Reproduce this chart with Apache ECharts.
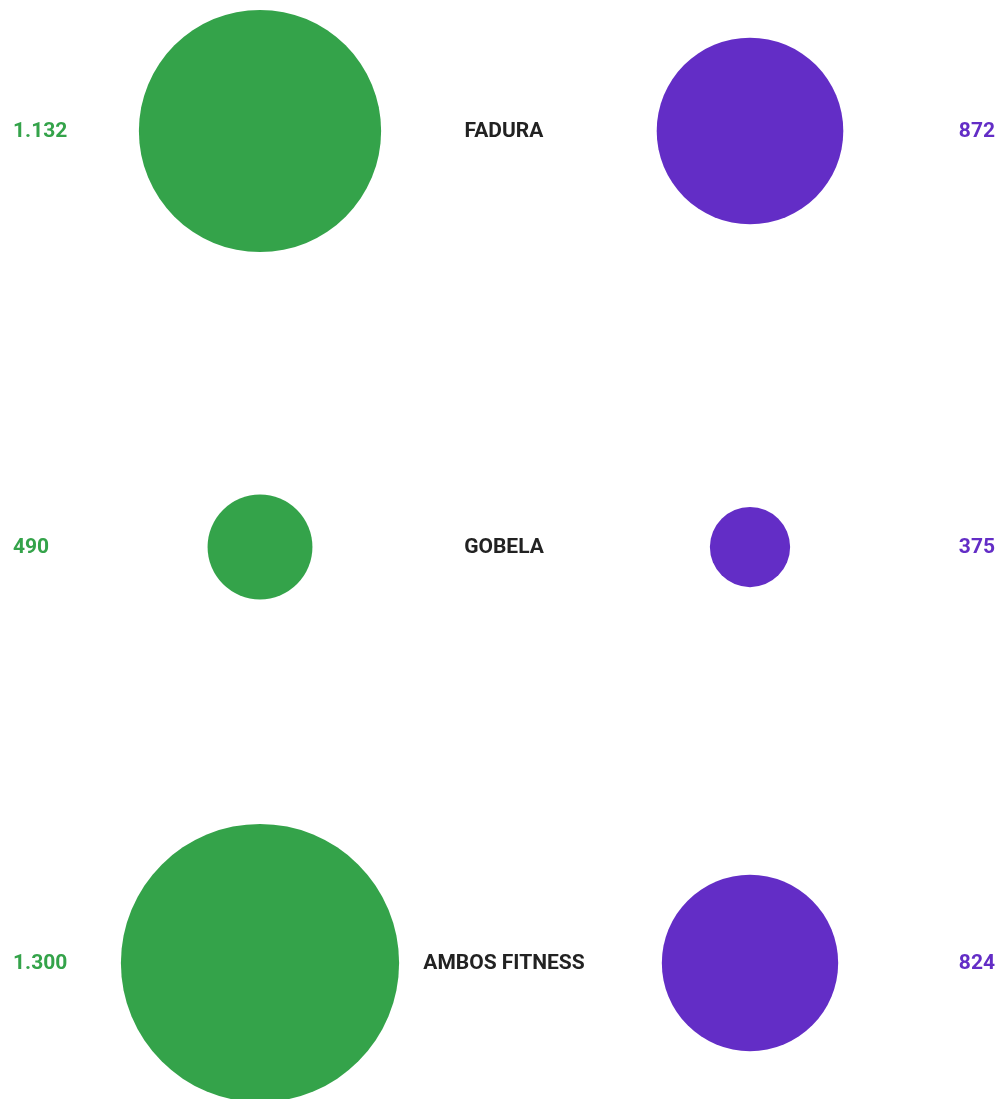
<!DOCTYPE html>
<html><head><meta charset="utf-8">
<script src="https://cdn.jsdelivr.net/npm/echarts@6/dist/echarts.min.js"></script>
<style>html,body{margin:0;padding:0;background:#fff}#c{width:1000px;height:1099px}</style>
</head><body><div id="c"></div>
<script>
const categories = ['FADURA', 'GOBELA', 'AMBOS FITNESS'];
const greenValues = [1132, 490, 1300];
const purpleValues = [872, 375, 824];

const GREEN = '#34a34a', PURPLE = '#632dc6', DARK = '#222222';
const X_LEFT = 13, X_GREEN = 260, X_CENTER = 504, X_PURPLE = 750, X_RIGHT = 995;
const SCALE = 0.214;
const FONT = 'Roboto';
function fmt(v){ return String(v).replace(/\B(?=(\d{3})+(?!\d))/g, '.'); }

const chart = echarts.init(document.getElementById('c'));
const labelBase = {show: true, position: 'inside', verticalAlign: 'middle', offset: [0, 1], fontFamily: FONT, fontWeight: 'bold', fontSize: 21};
const labelItem = {opacity: 1, color: 'transparent'};
chart.setOption({
  animation: false,
  grid: {left: 0, right: 0, top: 131, bottom: 1099 - 963, containLabel: false},
  xAxis: {type: 'value', min: 0, max: 1000, show: false},
  yAxis: {type: 'value', min: 0, max: 2, inverse: true, show: false},
  series: [
    {type: 'scatter', silent: true, itemStyle: {color: GREEN, opacity: 1},
     data: greenValues.map((v, i) => ({value: [X_GREEN, i], symbolSize: v * SCALE}))},
    {type: 'scatter', silent: true, itemStyle: {color: PURPLE, opacity: 1},
     data: purpleValues.map((v, i) => ({value: [X_PURPLE, i], symbolSize: v * SCALE}))},
    {type: 'scatter', silent: true, symbolSize: 1, itemStyle: labelItem,
     label: Object.assign({}, labelBase, {align: 'left', color: GREEN, formatter: p => fmt(greenValues[p.dataIndex])}),
     data: greenValues.map((v, i) => [X_LEFT, i])},
    {type: 'scatter', silent: true, symbolSize: 1, itemStyle: labelItem,
     label: Object.assign({}, labelBase, {align: 'center', color: DARK, formatter: p => categories[p.dataIndex]}),
     data: categories.map((c, i) => [X_CENTER, i])},
    {type: 'scatter', silent: true, symbolSize: 1, itemStyle: labelItem,
     label: Object.assign({}, labelBase, {align: 'right', color: PURPLE, formatter: p => fmt(purpleValues[p.dataIndex])}),
     data: purpleValues.map((v, i) => [X_RIGHT, i])}
  ]
});
</script></body></html>
